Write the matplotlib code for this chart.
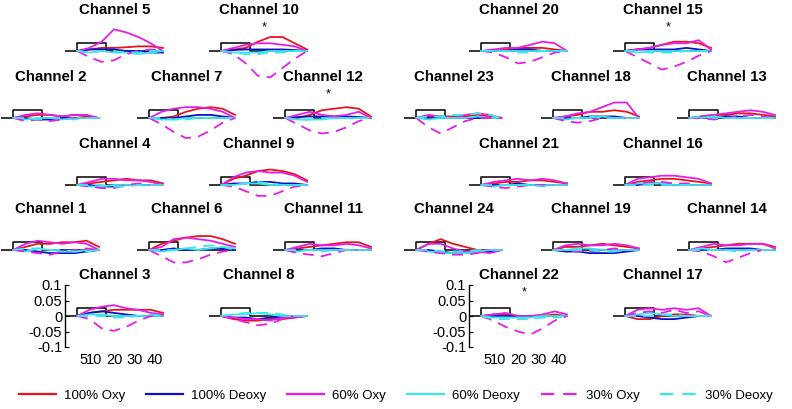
import matplotlib
matplotlib.use("Agg")
import matplotlib.pyplot as plt
from matplotlib.lines import Line2D

plt.rcParams['font.family'] = ['Liberation Sans', 'DejaVu Sans']

# time points (s) of the averaged responses
TIME = [2, 8, 14, 20, 26, 32, 38, 44]

# stimulus marker: time and level
STIM_T = [-4, 2, 2, 16, 16, 44]
STIM_Y = [0, 0, 0.025, 0.025, 0, 0]

# where each channel sits: (column, row)
LAYOUT = {
    5: (1, 0), 10: (3, 0), 20: (6, 0), 15: (8, 0),
    2: (0, 1), 7: (2, 1), 12: (4, 1), 23: (5, 1), 18: (7, 1), 13: (9, 1),
    4: (1, 2), 9: (3, 2), 21: (6, 2), 16: (8, 2),
    1: (0, 3), 6: (2, 3), 11: (4, 3), 24: (5, 3), 19: (7, 3), 14: (9, 3),
    3: (1, 4), 8: (3, 4), 22: (6, 4), 17: (8, 4),
}
AXIS_CHANNELS = [3, 22]
STAR_CHANNELS = [10, 12, 15, 22]

OXY100 = {
    1: [0, 0.01, 0.02, 0.02, 0.025, 0.025, 0.03, 0.01],
    2: [0, 0.005, 0.01, 0.01, 0.005, 0.01, 0.005, 0.0],
    3: [0, 0.01, 0.015, 0.02, 0.02, 0.02, 0.02, 0.01],
    4: [0, 0.005, 0.01, 0.015, 0.02, 0.015, 0.015, 0.005],
    5: [0, 0.005, 0.01, 0.01, 0.012, 0.015, 0.015, 0.01],
    6: [0, 0.02, 0.03, 0.04, 0.045, 0.045, 0.035, 0.02],
    7: [0, 0.0, 0.005, 0.02, 0.03, 0.035, 0.03, 0.01],
    8: [0, -0.01, -0.015, -0.015, -0.01, -0.01, -0.005, 0],
    9: [0, 0.02, 0.03, 0.045, 0.05, 0.045, 0.035, 0.015],
    10: [0, 0.005, 0.01, 0.03, 0.045, 0.045, 0.025, 0.005],
    11: [0, 0.005, 0.01, 0.015, 0.02, 0.025, 0.025, 0.01],
    12: [0, 0.0, 0.01, 0.025, 0.03, 0.035, 0.03, 0.005],
    13: [0, 0.005, 0.01, 0.01, 0.015, 0.015, 0.01, 0.005],
    14: [0, 0.005, 0.01, 0.015, 0.02, 0.02, 0.02, 0.01],
    15: [0, 0.005, 0.01, 0.02, 0.03, 0.03, 0.025, 0.01],
    16: [0, 0.01, 0.015, 0.02, 0.02, 0.015, 0.01, 0.005],
    17: [0, -0.01, -0.01, 0.0, 0.005, 0.005, 0.0, 0.0],
    18: [0, 0.005, 0.01, 0.02, 0.02, 0.025, 0.02, 0.005],
    19: [0, 0.01, 0.01, 0.015, 0.02, 0.015, 0.01, 0.005],
    20: [0, 0.0, 0.005, 0.01, 0.01, 0.01, 0.005, 0.0],
    21: [0, 0.005, 0.01, 0.01, 0.015, 0.015, 0.01, 0.005],
    22: [0, 0.005, 0.005, 0.0, 0.0, 0.0, 0.005, 0.0],
    23: [0, 0.005, 0.005, 0.005, 0.005, 0.01, 0.005, 0],
    24: [0, 0.02, 0.035, 0.02, 0.01, 0.0, 0.0, 0.0],
}
DEOXY100 = {
    1: [0, 0.0, -0.005, -0.01, -0.01, -0.01, -0.005, 0],
    2: [0, 0, -0.005, -0.005, 0, 0, 0, 0],
    3: [0, 0.01, 0.015, 0.01, 0.005, 0.0, 0.0, 0.0],
    4: [0, 0, -0.005, -0.005, 0, 0, 0, 0],
    5: [0, 0.005, 0.005, 0.005, 0.0, 0.0, -0.005, -0.005],
    6: [0, 0.0, 0.005, 0.0, 0.0, 0.005, 0.005, 0.0],
    7: [0, 0.0, 0.0, 0.005, 0.01, 0.01, 0.005, 0],
    8: [0, -0.005, -0.005, -0.01, -0.005, -0.005, 0, 0],
    9: [0, 0.005, 0.005, 0.01, 0.01, 0.005, 0.005, 0],
    10: [0, 0.003, 0.005, 0.005, 0.005, 0.005, 0.003, 0],
    11: [0, 0, 0, 0.005, 0.005, 0, 0, 0],
    12: [0, 0.003, 0.005, 0.005, 0.005, 0.005, 0.003, 0],
    13: [0, 0, 0, 0.005, 0.005, 0, 0, 0],
    14: [0, 0, 0, 0.005, 0.005, 0.005, 0, 0],
    15: [0, 0.005, 0.005, 0.005, 0.005, 0.01, 0.005, 0],
    16: [0, 0, 0.005, 0.005, 0, 0, 0, 0],
    17: [0, 0.0, -0.005, -0.01, -0.01, -0.005, 0, 0],
    18: [0, 0.0, 0.0, 0.005, 0.005, 0.005, 0, 0],
    19: [0, -0.005, -0.005, -0.01, -0.01, -0.01, -0.005, 0],
    20: [0, 0, 0, 0.005, 0.005, 0, 0, 0],
    21: [0, 0, 0.0, 0.005, 0, 0, 0, 0],
    22: [0, 0, 0, 0, 0, 0, 0, 0],
    23: [0, 0, 0, 0, 0, 0, 0, 0],
    24: [0, 0.0, -0.005, -0.01, -0.01, -0.005, -0.005, 0],
}
OXY60 = {
    1: [0, 0.02, 0.03, 0.025, 0.02, 0.025, 0.02, 0.0],
    2: [0, 0.01, 0.015, 0.01, 0.005, 0.01, 0.01, 0],
    3: [0, 0.02, 0.03, 0.035, 0.025, 0.02, 0.01, 0.005],
    4: [0, 0.01, 0.02, 0.02, 0.015, 0.015, 0.01, 0.0],
    5: [0, 0.01, 0.03, 0.07, 0.06, 0.045, 0.025, 0.0],
    6: [0, 0.01, 0.035, 0.04, 0.035, 0.03, 0.02, 0.01],
    7: [0, 0.02, 0.03, 0.035, 0.035, 0.03, 0.02, 0.0],
    8: [0, -0.005, -0.01, -0.01, -0.015, -0.005, -0.005, 0],
    9: [0, 0.025, 0.04, 0.045, 0.04, 0.04, 0.03, 0.01],
    10: [0, 0.01, 0.02, 0.025, 0.025, 0.02, 0.015, 0.0],
    11: [0, 0.01, 0.02, 0.015, 0.015, 0.02, 0.015, 0.005],
    12: [0, 0.01, 0.02, 0.01, 0.005, 0.01, 0.02, 0.0],
    13: [0, 0.005, 0.01, 0.015, 0.02, 0.025, 0.02, 0.01],
    14: [0, 0.01, 0.02, 0.015, 0.015, 0.02, 0.02, 0.005],
    15: [0, 0.005, 0.01, 0.02, 0.025, 0.025, 0.035, 0.005],
    16: [0, 0.02, 0.025, 0.03, 0.03, 0.025, 0.02, 0.005],
    17: [0, 0.02, 0.025, 0.02, 0.025, 0.02, 0.025, 0.0],
    18: [0, 0.005, 0.015, 0.02, 0.035, 0.05, 0.05, 0.0],
    19: [0, 0.015, 0.02, 0.015, 0.015, 0.02, 0.015, 0.005],
    20: [0, 0.005, 0.01, 0.01, 0.02, 0.03, 0.025, 0.0],
    21: [0, 0.01, 0.015, 0.02, 0.015, 0.02, 0.015, 0.005],
    22: [0, 0.005, 0.01, 0.0, 0.0, 0.005, 0.015, 0.005],
    23: [0, 0.01, 0.005, 0.0, 0.01, 0.015, 0.01, 0.0],
    24: [0, 0.02, 0.02, 0.005, -0.005, -0.005, -0.01, 0.0],
}
DEOXY60 = {
    1: [0, -0.005, 0.005, 0.0, -0.005, -0.005, 0, 0],
    2: [0, -0.005, 0, 0, -0.005, 0, 0, 0],
    3: [0, 0.005, 0.005, 0.0, 0.0, 0.0, 0.0, 0.0],
    4: [0, -0.005, -0.005, 0, 0, 0, 0, 0],
    5: [0, -0.005, 0.0, -0.005, -0.005, -0.01, -0.005, 0],
    6: [0, -0.005, 0, 0.005, 0, 0.005, 0.01, 0.005],
    7: [0, -0.005, -0.005, 0, 0, 0, 0, 0],
    8: [0, 0.005, 0.005, 0.01, 0.005, 0.0, 0, 0],
    9: [0, 0, 0.005, 0.005, 0, 0, 0, 0],
    10: [0, -0.005, -0.005, -0.005, 0, 0, 0, 0],
    11: [0, -0.005, 0, 0, 0, 0, 0, 0],
    12: [0, -0.005, -0.005, -0.005, 0, 0, 0, 0],
    13: [0, 0, 0.005, 0, 0, 0, 0, 0],
    14: [0, 0.005, 0, 0, 0, 0, 0, 0],
    15: [0, -0.005, 0, 0, 0, 0, 0, 0],
    16: [0, 0.005, 0.005, 0.005, 0, 0, 0, 0],
    17: [0, 0.005, 0.01, 0.005, 0, 0, 0, 0],
    18: [0, -0.005, 0, 0, 0.005, 0, 0, 0],
    19: [0, 0, 0.005, 0.005, 0, 0, 0, 0],
    20: [0, 0, 0, 0, 0, 0, 0, 0],
    21: [0, -0.005, 0, 0, 0, 0, 0, 0],
    22: [0, -0.005, -0.005, -0.005, -0.005, 0, 0, 0],
    23: [0, -0.005, 0, 0, 0, 0.005, 0, 0],
    24: [0, -0.005, -0.01, -0.01, -0.01, -0.005, 0, 0],
}
OXY30 = {
    1: [0, -0.005, -0.01, -0.015, -0.005, 0.0, 0.005, 0],
    2: [0, -0.01, -0.005, -0.01, -0.005, 0, 0, 0],
    3: [0, -0.01, -0.04, -0.048, -0.035, -0.015, 0.0, 0.005],
    4: [0, -0.005, -0.01, -0.01, 0, 0.005, 0, 0],
    5: [0, -0.02, -0.035, -0.03, -0.01, 0.0, 0.005, 0.0],
    6: [0, -0.02, -0.04, -0.04, -0.03, -0.015, -0.005, 0],
    7: [0, -0.02, -0.045, -0.065, -0.06, -0.04, -0.015, 0],
    8: [0, -0.01, -0.02, -0.03, -0.025, -0.01, 0, 0],
    9: [0, -0.005, -0.02, -0.035, -0.035, -0.02, -0.005, 0],
    10: [0, -0.01, -0.04, -0.08, -0.085, -0.055, -0.025, 0],
    11: [0, -0.01, -0.015, -0.02, -0.01, 0, 0, 0],
    12: [0, -0.02, -0.04, -0.05, -0.045, -0.03, -0.01, 0],
    13: [0, 0, -0.005, 0, 0.005, 0.01, 0.005, 0],
    14: [0, -0.005, -0.02, -0.04, -0.025, -0.01, 0, 0],
    15: [0, -0.02, -0.04, -0.06, -0.05, -0.035, -0.015, 0],
    16: [0, 0.005, 0.01, 0.01, 0.005, 0.005, 0, 0],
    17: [0, 0.01, 0.015, 0.01, 0.02, 0.01, 0.015, 0],
    18: [0, -0.01, -0.015, -0.01, 0.0, 0.0, 0.0, 0],
    19: [0, 0.0, -0.005, -0.005, 0.0, 0.005, 0.0, 0],
    20: [0, -0.005, -0.02, -0.04, -0.035, -0.02, -0.005, 0],
    21: [0, -0.005, -0.01, -0.005, 0, 0, 0, 0],
    22: [0, -0.015, -0.035, -0.05, -0.06, -0.04, -0.015, 0],
    23: [0, -0.03, -0.05, -0.03, -0.01, 0, 0, 0],
    24: [0, -0.005, -0.01, -0.015, -0.015, -0.01, 0, 0],
}
DEOXY30 = {
    1: [0, 0.005, 0.005, 0.0, 0.0, -0.005, -0.005, 0],
    2: [0, 0, -0.005, 0, 0, -0.005, 0, 0],
    3: [0, 0.0, 0.0, -0.005, -0.005, 0, 0.005, 0],
    4: [0, 0, 0, -0.005, -0.005, 0, 0, 0],
    5: [0, -0.005, 0, 0, -0.005, -0.005, 0, 0],
    6: [0, 0, 0, 0.005, 0.01, 0.015, 0.01, 0],
    7: [0, 0, -0.005, -0.005, 0, 0, 0, 0],
    8: [0, 0.005, 0.01, 0.01, 0.01, 0.005, 0, 0],
    9: [0, 0, 0.005, 0.01, 0.005, 0, 0, 0],
    10: [0, -0.005, -0.01, -0.01, -0.005, -0.005, 0, 0],
    11: [0, 0, 0, -0.005, 0, 0, 0, 0],
    12: [0, -0.005, -0.005, 0, 0, 0, 0, 0],
    13: [0, 0.005, 0, 0, 0, 0, 0, 0],
    14: [0, 0, 0, 0, -0.005, 0, 0, 0],
    15: [0, 0, -0.005, -0.005, -0.005, 0, 0, 0],
    16: [0, 0, 0, 0, 0, 0, 0, 0],
    17: [0, 0, 0, 0.005, 0.005, 0, 0, 0],
    18: [0, 0, 0, 0.005, 0, 0, 0, 0],
    19: [0, 0, 0, 0, -0.005, -0.005, 0, 0],
    20: [0, 0, 0, -0.005, -0.005, 0, 0, 0],
    21: [0, 0, 0, 0, 0, -0.005, 0, 0],
    22: [0, -0.01, -0.01, -0.01, -0.01, -0.005, -0.005, 0],
    23: [0, 0.005, 0.005, 0.01, 0.01, 0.015, 0.01, 0],
    24: [0, 0, -0.005, -0.005, -0.005, 0, 0, 0],
}

LABELS = ['100% Oxy', '100% Deoxy', '60% Oxy', '60% Deoxy', '30% Oxy', '30% Deoxy']
SERIES = [OXY100, DEOXY100, OXY60, DEOXY60, OXY30, DEOXY30]
COLORS = ['#e8141c', '#0c10c8', '#e61ee6', '#3ce6ec', '#e61ee6', '#3ce6ec']
STYLES = ['-', '-', '-', '-', (0, (6, 4)), (0, (6, 4))]

# panel geometry in pixels
W, H = 792, 409
COL_LEFT = [1, 65, 137, 209, 273, 404, 469, 541, 613, 677]
ROW_TOP = [20, 87, 154, 219, 285]
PW, PH = 100, 62

fig = plt.figure(figsize=(W / 100, H / 100), dpi=100)

for ch, (c, r) in LAYOUT.items():
    ax = fig.add_axes([COL_LEFT[c] / W, 1 - (ROW_TOP[r] + PH) / H, PW / W, PH / H])
    ax.plot(STIM_T, STIM_Y, color='black', lw=1.1, zorder=1)
    for data, col, ls in zip(SERIES, COLORS, STYLES):
        ax.plot(TIME, data[ch], color=col, ls=ls, lw=1.3)
    ax.set_xlim(-4, 45)
    ax.set_ylim(-0.1, 0.1)
    ax.set_title('Channel %d' % ch, fontsize=10.8, fontweight='bold', pad=4.5)
    if ch in STAR_CHANNELS:
        ax.text(23, 0.075, '*', ha='center', va='center', fontsize=9)
    if ch in AXIS_CHANNELS:
        for s in ['top', 'right', 'bottom']:
            ax.spines[s].set_visible(False)
        ax.spines['left'].set_linewidth(1.0)
        ax.set_yticks([-0.1, -0.05, 0, 0.05, 0.1])
        ax.set_yticklabels(['-0.1', '-0.05', '0', '0.05', '0.1'])
        ax.set_xticks([5, 10, 20, 30, 40])
        ax.set_xticklabels(['5', '10', '20', '30', '40'])
        ax.tick_params(axis='y', direction='in', length=3, labelsize=10.5, pad=2)
        ax.tick_params(axis='x', length=0, labelsize=10.5, pad=4)
    else:
        ax.axis('off')

handles = [Line2D([], [], color=col, ls=ls, lw=1.6) for col, ls in zip(COLORS, STYLES)]
fig.legend(handles, LABELS, loc='lower center', bbox_to_anchor=(0.5, -0.012), ncol=6,
           frameon=False, fontsize=9.5, handlelength=2.8, columnspacing=1.6,
           handletextpad=0.6)

fig.savefig('out.png', dpi=100)
